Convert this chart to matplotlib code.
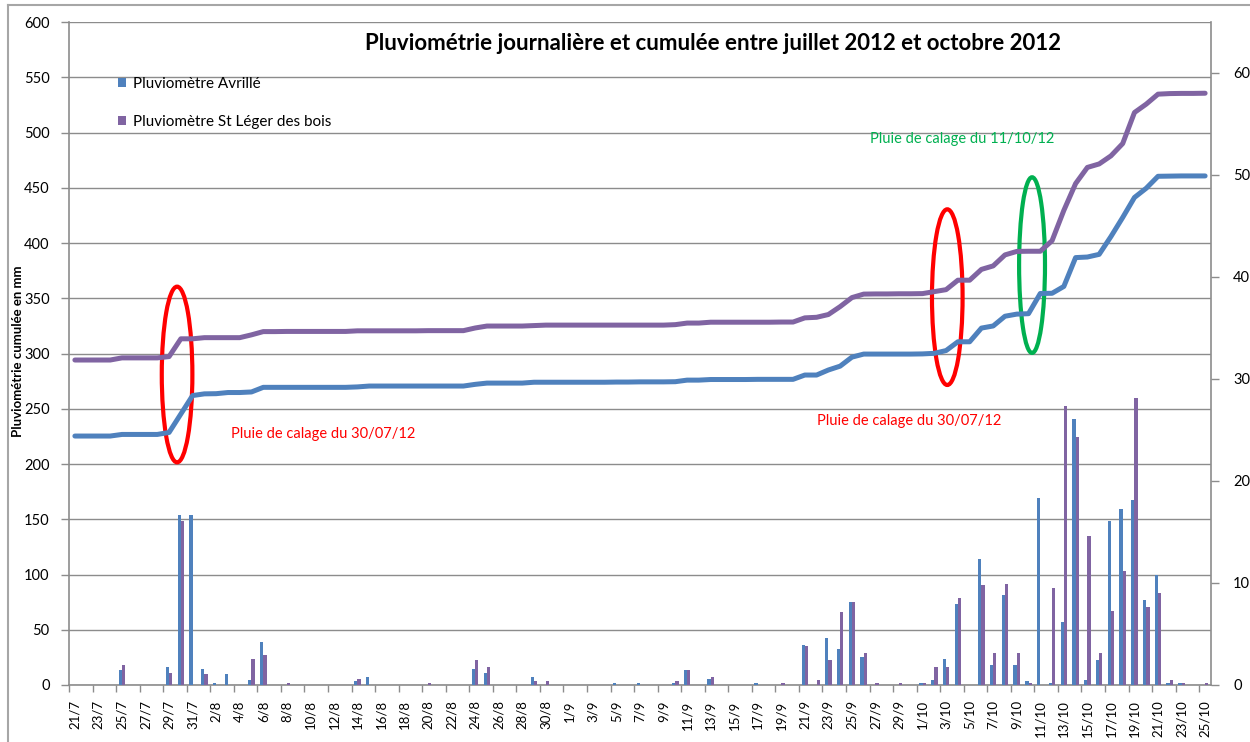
import matplotlib
matplotlib.use("Agg")
import matplotlib.pyplot as plt
from matplotlib.patches import Ellipse
from matplotlib.lines import Line2D
import numpy as np
import pandas as pd

plt.rcParams['font.family'] = ['Lato', 'DejaVu Sans']

# daily rainfall (mm), 21/7/2012 -> 25/10/2012
avrille_jul = [0, 0, 0, 0, 1.45, 0, 0, 0, 1.8, 16.7, 16.7]
avrille_aug = [1.53, 0.16, 1.04, 0, 0.52, 4.18, 0, 0, 0, 0, 0, 0, 0, 0.39, 0.78, 0,
               0, 0, 0, 0, 0, 0, 0, 1.53, 1.14, 0, 0, 0, 0.78, 0, 0]
avrille_sep = [0, 0, 0, 0, 0.16, 0, 0.16, 0, 0, 0.16, 1.43, 0, 0.55, 0, 0, 0,
               0.15, 0, 0, 0, 3.9, 0, 4.56, 3.49, 8.15, 2.77, 0, 0, 0, 0]
avrille_oct = [0.16, 0.52, 2.51, 7.93, 0, 12.4, 1.92, 8.8, 1.92, 0.39, 18.3, 0.16, 6.2,
               26.1, 0.52, 2.41, 16.1, 17.3, 18.1, 8.35, 10.8, 0.16, 0.16, 0, 0]

leger_jul = [0, 0, 0, 0, 1.93, 0, 0, 0, 1.17, 16.1, 0]
leger_aug = [1.04, 0, 0, 0, 2.54, 2.94, 0, 0.15, 0, 0, 0, 0, 0, 0.55, 0, 0,
             0, 0, 0, 0.16, 0, 0, 0, 2.41, 1.76, 0, 0, 0, 0.42, 0.42, 0]
leger_sep = [0, 0, 0, 0, 0, 0, 0, 0, 0, 0.42, 1.43, 0, 0.78, 0, 0, 0,
             0, 0, 0.15, 0, 3.78, 0.52, 2.5, 7.17, 8.15, 3.16, 0.15, 0, 0.15, 0]
leger_oct = [0.16, 1.79, 1.79, 8.55, 0, 9.78, 3.16, 9.94, 3.16, 0.16, 0, 9.55, 27.4,
             24.3, 14.6, 3.16, 7.3, 11.15, 28.1, 7.6, 9.0, 0.52, 0.16, 0, 0.16]

# cumulative totals already recorded on 21/7
avrille_start = 225.3
leger_start = 294.1

avrille = np.array(avrille_jul + avrille_aug + avrille_sep + avrille_oct)
leger = np.array(leger_jul + leger_aug + leger_sep + leger_oct)
avrille_cum = avrille_start + np.cumsum(avrille)
leger_cum = leger_start + np.cumsum(leger)

days = pd.date_range('2012-07-21', '2012-10-25', freq='D')
day_labels = [f"{d.day}/{d.month}" for d in days]

blue = '#4F81BD'
purple = '#8064A2'
grey = '#8C8C8C'

W, H = 1250, 742
fig = plt.figure(figsize=(W / 100, H / 100), dpi=100)
ax = fig.add_axes([69 / W, 1 - 685 / H, (1211 - 69) / W, (685 - 22) / H])
ax2 = ax.twinx()

x = np.arange(len(days))

# cumulative lines (left axis)
ax.plot(x, avrille_cum, color=blue, lw=3.6, solid_joinstyle='round', solid_capstyle='round')
ax.plot(x, leger_cum, color=purple, lw=3.6, solid_joinstyle='round', solid_capstyle='round')

# daily bars (right axis)
b1 = ax2.bar(x - 0.14, avrille, width=0.28, color=blue, label='Pluviomètre Avrillé')
b2 = ax2.bar(x + 0.14, leger, width=0.28, color=purple, label='Pluviomètre St Léger des bois')

ax.set_xlim(-0.5, len(days) - 0.5)
ax.set_ylim(0, 600)
ax2.set_ylim(0, 65)

ax.set_yticks(np.arange(0, 601, 50))
ax.yaxis.grid(True, color=grey, lw=1.0)
ax.set_axisbelow(True)
ax2.set_yticks(np.arange(0, 61, 10))

ax.set_xticks(x[::2])
ax.set_xticklabels(day_labels[::2], rotation=90, fontsize=9.5)
ax.set_xticks(np.arange(-0.5, len(days), 2), minor=True)
ax.tick_params(axis='x', which='major', length=0, pad=11)
ax.tick_params(axis='x', which='minor', length=5, color=grey, width=1)
ax.tick_params(axis='y', length=6, color=grey, width=1, labelsize=10.5, pad=8)
ax2.tick_params(axis='y', length=6, color=grey, width=1, labelsize=10.5, pad=10)

for s in ['top', 'right']:
    ax.spines[s].set_visible(False)
for s in ['top', 'left', 'bottom']:
    ax2.spines[s].set_visible(False)
for sp in [ax.spines['left'], ax.spines['bottom'], ax2.spines['right']]:
    sp.set_color(grey)
    sp.set_linewidth(1.2)

# highlighted calibration rain events
ax.add_patch(Ellipse((8.68, 281), 2.6, 159, fill=False, ec='#FF0000', lw=3))
ax.add_patch(Ellipse((74.1, 351), 2.6, 159, fill=False, ec='#FF0000', lw=3))
ax.add_patch(Ellipse((81.3, 380), 2.2, 159, fill=False, ec='#00B050', lw=3))
ax.text(13.26, 227, 'Pluie de calage du 30/07/12', color='#FF0000', fontsize=10.5, va='center')
ax.text(63.05, 239, 'Pluie de calage du 30/07/12', color='#FF0000', fontsize=10.5, va='center')
ax.text(67.55, 494, 'Pluie de calage du 11/10/12', color='#00B050', fontsize=10.5, va='center')

ax2.legend(handles=[b1, b2], loc='upper left', bbox_to_anchor=(118 / W, 1 - 77 / H),
           bbox_transform=fig.transFigure, frameon=False, fontsize=11,
           handlelength=0.5, handleheight=0.5, handletextpad=0.5,
           labelspacing=1.55, borderpad=0, borderaxespad=0)

fig.text(713 / W, 1 - 43 / H, 'Pluviométrie journalière et cumulée entre juillet 2012 et octobre 2012',
         fontsize=16, fontweight='bold', ha='center', va='center')
fig.text(18 / W, 1 - 351 / H, 'Pluviométrie cumulée en mm', rotation=90,
         fontsize=9.5, fontweight='bold', ha='center', va='center')

# chart frame
fig.add_artist(Line2D([8 / W, 8 / W], [0, 1 - 5 / H], color='#A6A6A6', lw=1.5))
fig.add_artist(Line2D([8 / W, 1], [1 - 5 / H, 1 - 5 / H], color='#A6A6A6', lw=1.5))

fig.savefig('out.png', dpi=100)
